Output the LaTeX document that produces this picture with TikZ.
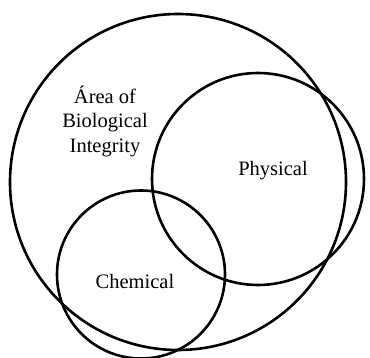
\documentclass[tikz,border=0pt]{standalone}
\usepackage{fontspec}
\setmainfont{Liberation Serif}
\usetikzlibrary{positioning}

\tikzset{
  ring/.style={draw=black, circle, line width=2.6pt, inner sep=0pt},
  lbl/.style={font=\fontsize{20.5}{24.5}\selectfont, align=center, inner sep=0pt}
}

\begin{document}
\begin{tikzpicture}[x=1pt, y=-1pt]
\useasboundingbox (0,0) rectangle (370,358);

% --- Circles ---
\node[ring, minimum size=336pt] (bio) at (178,182) {};
\node[ring, minimum size=212pt] (phys) at (258,179) {};
\node[ring, minimum size=168pt] (chem) at (141,274.5) {};

% --- Labels ---
\node[lbl] (biolbl) at (105,121) {Área of\\Biological\\Integrity};
\node[lbl, anchor=base] (physlbl) at (273,176) {Physical};
\node[lbl, anchor=base] (chemlbl) at (135,289) {Chemical};

\end{tikzpicture}
\end{document}
